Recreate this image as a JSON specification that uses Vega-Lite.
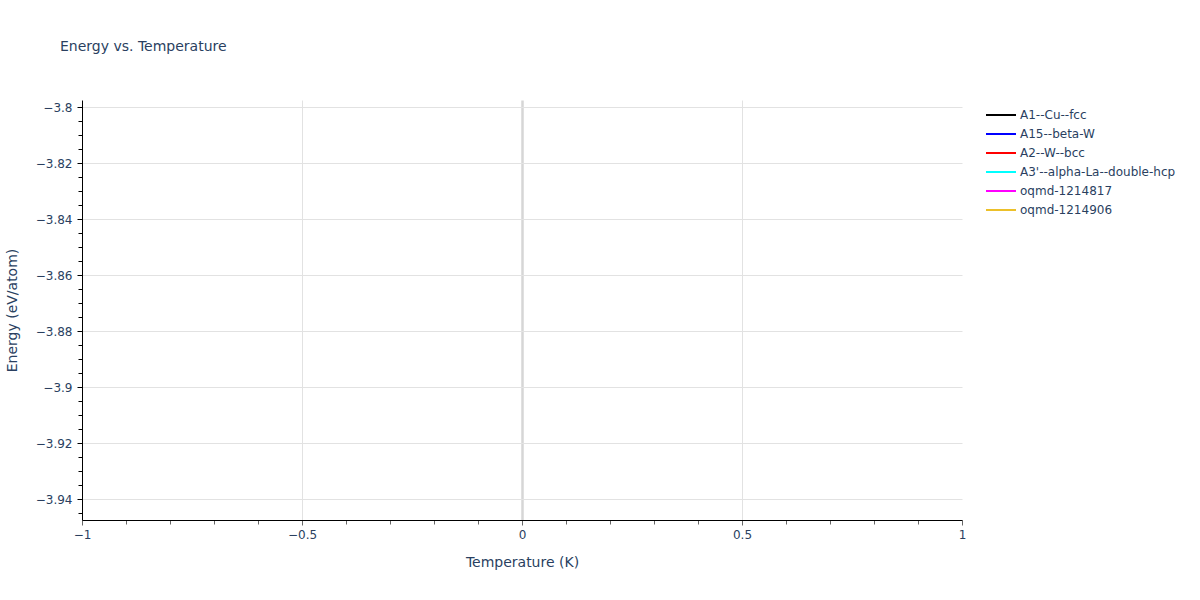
{
  "$schema": "https://vega.github.io/schema/vega-lite/v6.json",
  "description": "Energy vs. Temperature",
  "autosize": {"type": "none"},
  "width": 880,
  "height": 420,
  "padding": {"left": 82, "top": 100, "right": 238, "bottom": 80},
  "background": "white",
  "title": {
    "text": "Energy vs. Temperature",
    "anchor": "start",
    "frame": "group",
    "dx": -22,
    "offset": 46,
    "font": "DejaVu Sans",
    "fontSize": 14,
    "fontWeight": "normal",
    "color": "#2a3f5f"
  },
  "config": {
    "view": {"stroke": "transparent"},
    "font": "DejaVu Sans",
    "axis": {
      "labelFont": "DejaVu Sans",
      "labelFontSize": 12,
      "labelColor": "#2a3f5f",
      "titleFont": "DejaVu Sans",
      "titleFontSize": 14,
      "titleFontWeight": "normal",
      "titleColor": "#2a3f5f",
      "domainColor": "#000000",
      "domainWidth": 1,
      "labelOverlap": false,
      "labelFlush": false
    }
  },
  "data": {
    "values": [
      {"structure": "A1--Cu--fcc", "temperature": 0, "energy": -3.87},
      {"structure": "A15--beta-W", "temperature": 0, "energy": -3.82},
      {"structure": "A2--W--bcc", "temperature": 0, "energy": -3.86},
      {"structure": "A3'--alpha-La--double-hcp", "temperature": 0, "energy": -3.88},
      {"structure": "oqmd-1214817", "temperature": 0, "energy": -3.92},
      {"structure": "oqmd-1214906", "temperature": 0, "energy": -3.9}
    ]
  },
  "mark": {"type": "line", "strokeWidth": 2, "clip": true},
  "encoding": {
    "x": {
      "field": "temperature",
      "type": "quantitative",
      "title": "Temperature (K)",
      "scale": {"domain": [-1, 1], "nice": false, "zero": false},
      "axis": {
        "values": [-1, -0.9, -0.8, -0.7, -0.6, -0.5, -0.4, -0.3, -0.2, -0.1, 0, 0.1, 0.2, 0.3, 0.4, 0.5, 0.6, 0.7, 0.8, 0.9, 1],
        "labelExpr": "abs(datum.value*2-round(datum.value*2))<1e-6 ? format(datum.value, '~g') : ''",
        "grid": true,
        "gridColor": {"condition": {"test": "abs(datum.value)<1e-6", "value": "#d6d6d6"}, "value": "#e2e2e2"},
        "gridWidth": {"condition": {"test": "abs(datum.value)<1e-6", "value": 2.5}, "value": 1},
        "gridOpacity": {"condition": {"test": "abs(datum.value*2-round(datum.value*2))<1e-6 && abs(abs(datum.value)-1)>1e-6", "value": 1}, "value": 0},
        "tickColor": "#666666",
        "tickSize": {"condition": {"test": "abs(datum.value*2-round(datum.value*2))<1e-6", "value": 5}, "value": 4},
        "labelPadding": 4,
        "titlePadding": 15
      }
    },
    "y": {
      "field": "energy",
      "type": "quantitative",
      "title": "Energy (eV/atom)",
      "scale": {"domain": [-3.9475, -3.7975], "nice": false, "zero": false},
      "axis": {
        "values": [-3.945, -3.94, -3.935, -3.93, -3.925, -3.92, -3.915, -3.91, -3.905, -3.9, -3.895, -3.89, -3.885, -3.88, -3.875, -3.87, -3.865, -3.86, -3.855, -3.85, -3.845, -3.84, -3.835, -3.83, -3.825, -3.82, -3.815, -3.81, -3.805, -3.8],
        "labelExpr": "abs(datum.value*50-round(datum.value*50))<1e-6 ? format(datum.value, '~g') : ''",
        "grid": true,
        "gridColor": "#e2e2e2",
        "gridWidth": 1,
        "gridOpacity": {"condition": {"test": "abs(datum.value*50-round(datum.value*50))<1e-6", "value": 1}, "value": 0},
        "tickColor": "#000000",
        "tickSize": {"condition": {"test": "abs(datum.value*50-round(datum.value*50))<1e-6", "value": 5}, "value": 4},
        "labelPadding": 5,
        "titlePadding": 16
      }
    },
    "color": {
      "field": "structure",
      "type": "nominal",
      "title": null,
      "scale": {
        "domain": ["A1--Cu--fcc", "A15--beta-W", "A2--W--bcc", "A3'--alpha-La--double-hcp", "oqmd-1214817", "oqmd-1214906"],
        "range": ["#000000", "#0000ff", "#ff0000", "#00ffff", "#ff00ff", "#ecc02a"]
      },
      "legend": {
        "orient": "none",
        "legendX": 913,
        "legendY": 9,
        "padding": 0,
        "symbolType": "M-3,0H3",
        "symbolSize": 100,
        "symbolStrokeWidth": 2,
        "labelOffset": 13,
        "labelFont": "DejaVu Sans",
        "labelFontSize": 12,
        "labelColor": "#2a3f5f",
        "labelLimit": 300,
        "rowPadding": 7
      }
    }
  }
}
